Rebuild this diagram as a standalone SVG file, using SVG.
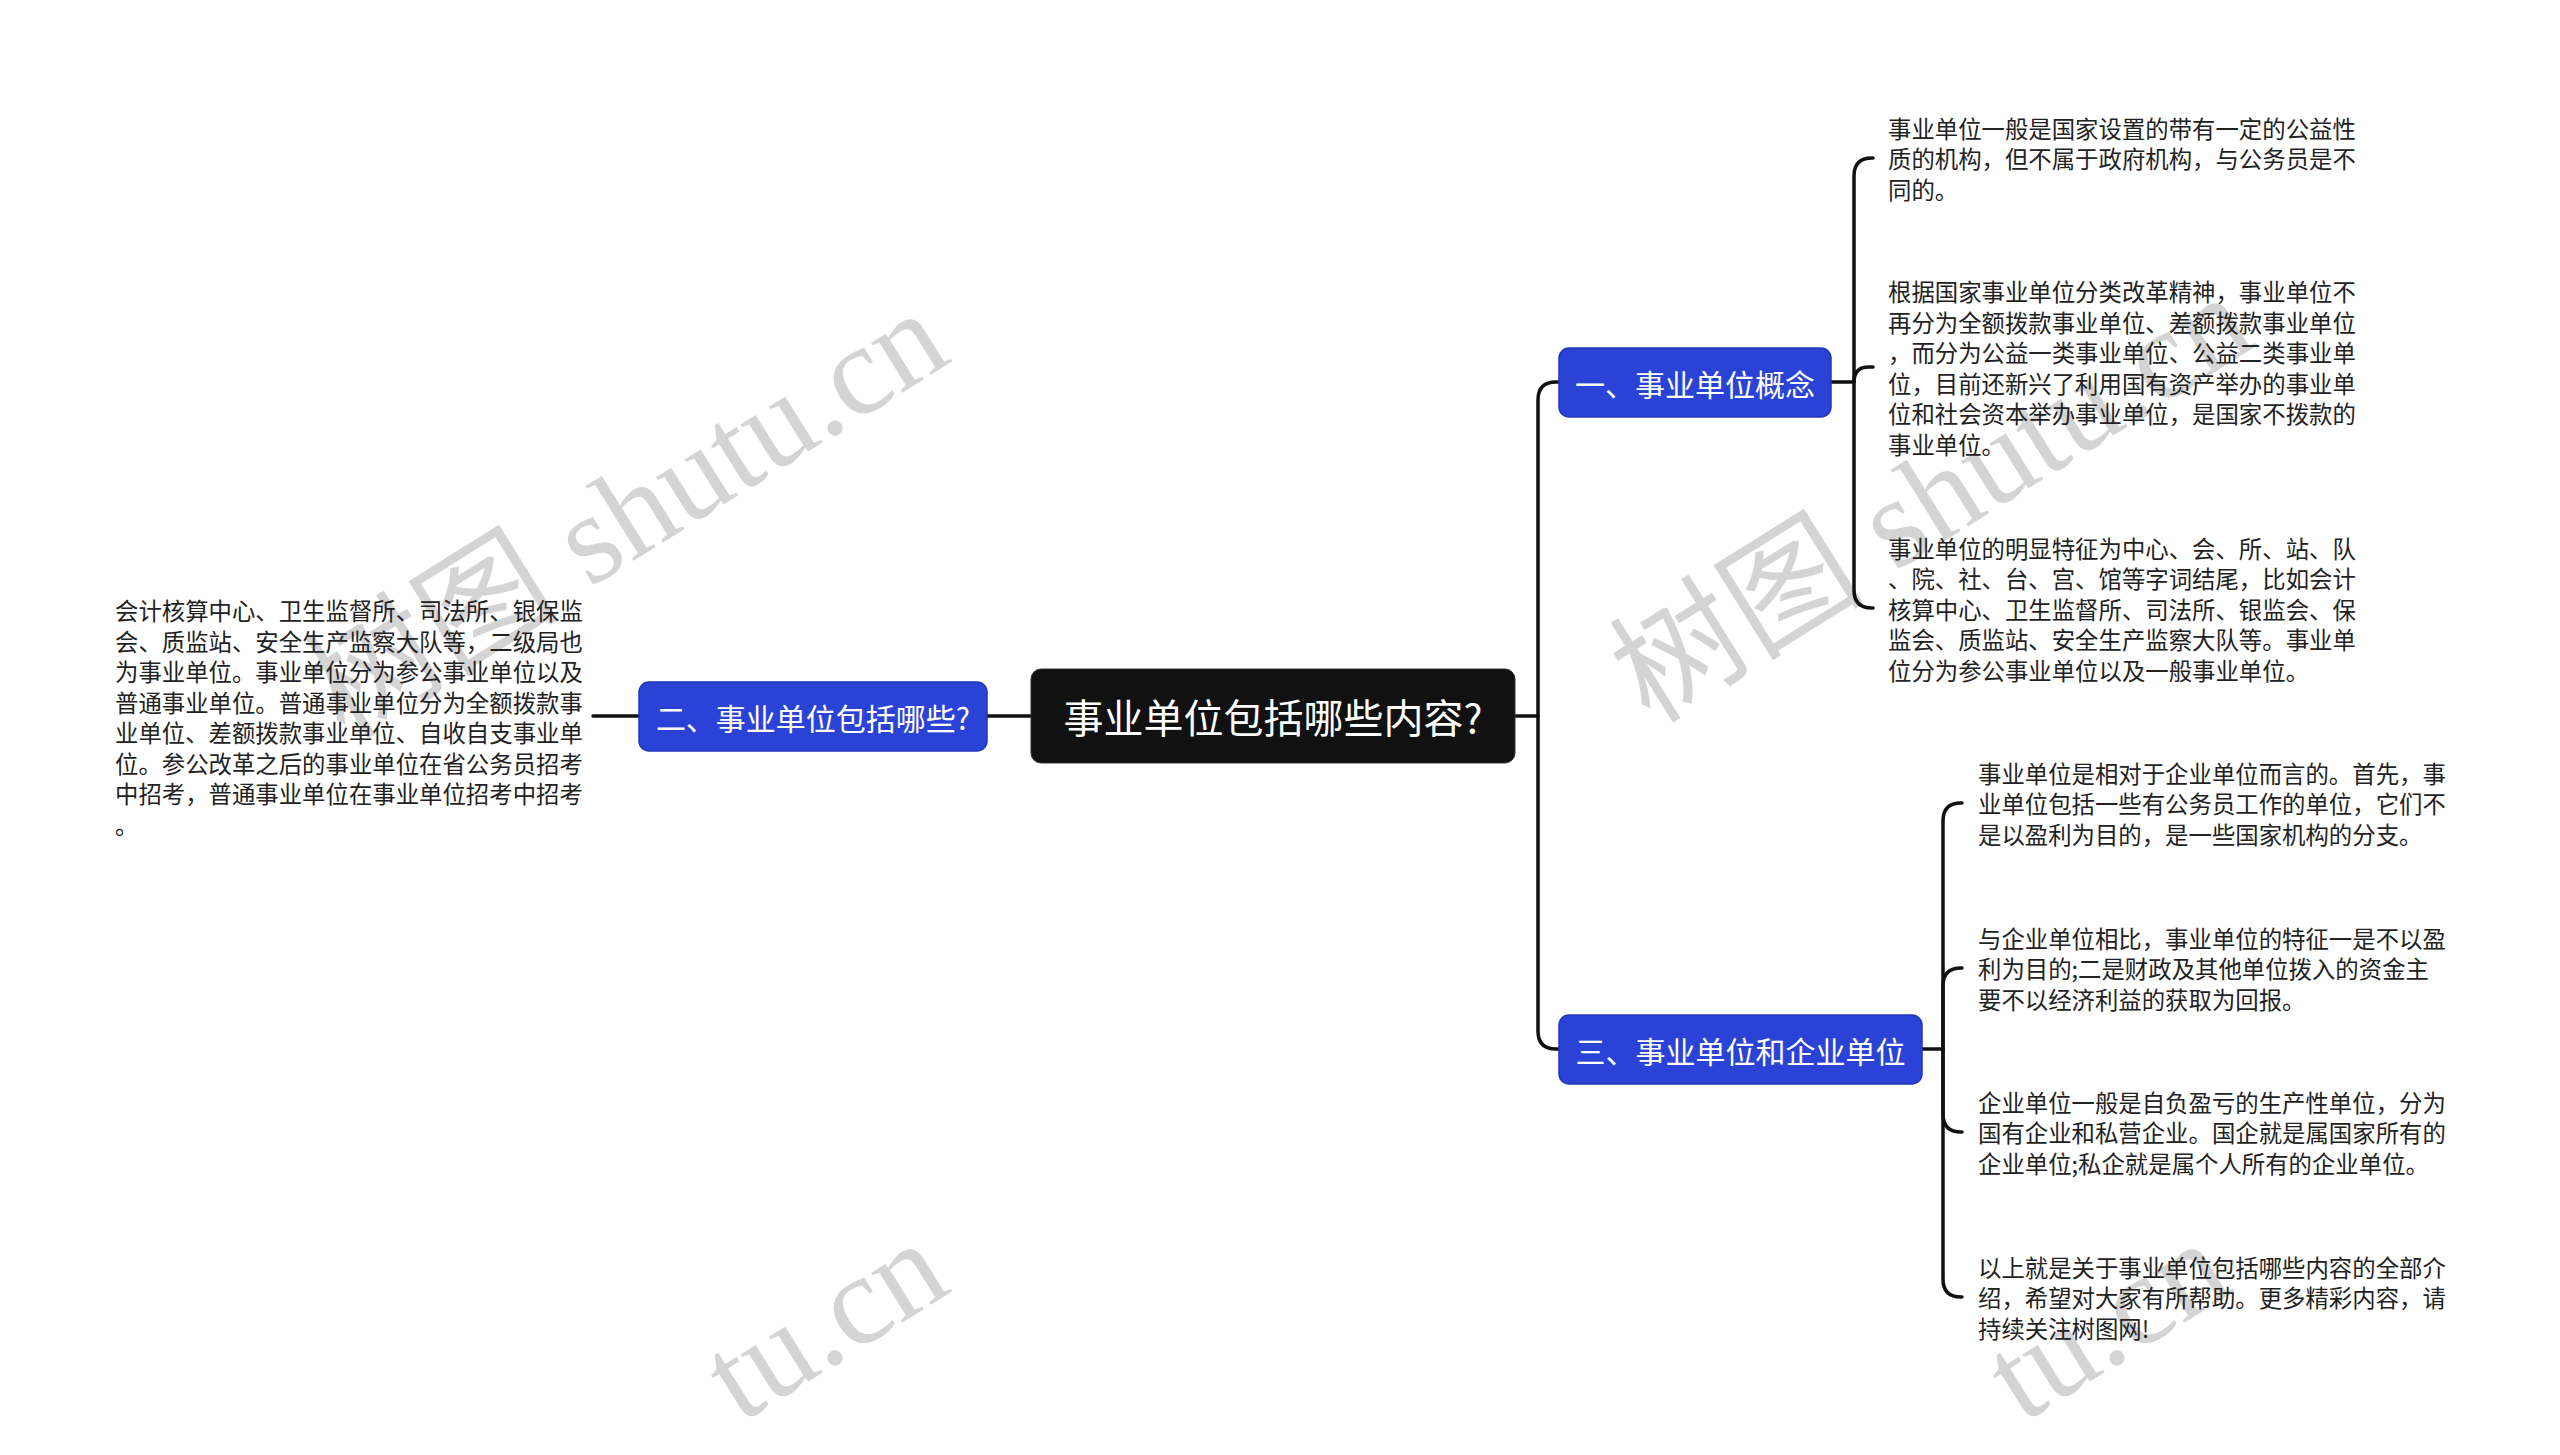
<svg xmlns="http://www.w3.org/2000/svg" width="2560" height="1455" viewBox="0 0 2560 1455">
<style>
.wm{fill:#d4d4d4;font-size:128px;}
.wmc{font-family:"Noto Sans CJK SC",sans-serif;}
.wms{font-family:"Liberation Serif",serif;}
.conn{fill:none;stroke:#111;stroke-width:3.5;stroke-linecap:round;}
.leaf{font-family:"Noto Sans CJK SC","Noto Sans",sans-serif;font-size:23.4px;fill:#222;dominant-baseline:central;}
.ntext{font-family:"Noto Sans CJK SC","Noto Sans",sans-serif;fill:#fff;text-anchor:middle;dominant-baseline:central;}
.blue{fill:#2a43d6;stroke:#2236b8;stroke-width:1.5;}
</style>
<rect width="2560" height="1455" fill="#fff"/>
<g id="watermarks">
<text class="wm" transform="translate(345,741) rotate(-32)"><tspan class="wmc">树图</tspan><tspan class="wms"> shutu.cn</tspan></text>
<text class="wm" transform="translate(1650,725) rotate(-32)"><tspan class="wmc">树图</tspan><tspan class="wms"> shutu.cn</tspan></text>
<text class="wm wms" transform="translate(740,1424) rotate(-32)">tu.cn</text>
<text class="wm wms" transform="translate(2022,1424) rotate(-32)">tu.cn</text>
</g>
<g id="connectors">
<path class="conn" d="M1031 716H987"/>
<path class="conn" d="M639 716H593"/>
<path class="conn" d="M1514 716H1538"/>
<path class="conn" d="M1538 716V400Q1538 382 1556 382H1559"/>
<path class="conn" d="M1538 716V1031Q1538 1049 1556 1049H1559"/>
<path class="conn" d="M1830 382H1854"/>
<path class="conn" d="M1854 382V176Q1854 158 1872 158H1873"/>
<path class="conn" d="M1854 382Q1854 367 1869 367H1873"/>
<path class="conn" d="M1854 382V590Q1854 608 1872 608H1873"/>
<path class="conn" d="M1922 1049H1943"/>
<path class="conn" d="M1943 1049V821Q1943 803 1961 803H1962"/>
<path class="conn" d="M1943 1049V986Q1943 968 1961 968H1962"/>
<path class="conn" d="M1943 1049V1114Q1943 1132 1961 1132H1962"/>
<path class="conn" d="M1943 1049V1279Q1943 1297 1961 1297H1962"/>
</g>
<g id="root">
<rect x="1031" y="669" width="484" height="94" rx="10" fill="#111" stroke="#333" stroke-width="1"/>
<text class="ntext" x="1273" y="716" font-size="40">事业单位包括哪些内容?</text>
</g>
<g id="node1">
<rect class="blue" x="1559" y="348" width="272" height="69" rx="10"/>
<text class="ntext" x="1695" y="382.5" font-size="30">一、事业单位概念</text>
</g>
<g id="node2">
<rect class="blue" x="639" y="682" width="348" height="69" rx="10"/>
<text class="ntext" x="813" y="716.5" font-size="30">二、事业单位包括哪些?</text>
</g>
<g id="node3">
<rect class="blue" x="1559" y="1015" width="363" height="69" rx="10"/>
<text class="ntext" x="1740.5" y="1049.5" font-size="30">三、事业单位和企业单位</text>
</g>
<g id="leaf2-1">
<text class="leaf" x="115"><tspan x="115" y="610">会计核算中心、卫生监督所、司法所、银保监</tspan><tspan x="115" y="640.5">会、质监站、安全生产监察大队等，二级局也</tspan><tspan x="115" y="671">为事业单位。事业单位分为参公事业单位以及</tspan><tspan x="115" y="701.5">普通事业单位。普通事业单位分为全额拨款事</tspan><tspan x="115" y="732">业单位、差额拨款事业单位、自收自支事业单</tspan><tspan x="115" y="762.5">位。参公改革之后的事业单位在省公务员招考</tspan><tspan x="115" y="793">中招考，普通事业单位在事业单位招考中招考</tspan><tspan x="115" y="823.5">。</tspan></text>
</g>
<g id="leaf1-1">
<text class="leaf"><tspan x="1888" y="127.5">事业单位一般是国家设置的带有一定的公益性</tspan><tspan x="1888" y="158">质的机构，但不属于政府机构，与公务员是不</tspan><tspan x="1888" y="188.5">同的。</tspan></text>
</g>
<g id="leaf1-2">
<text class="leaf"><tspan x="1888" y="291">根据国家事业单位分类改革精神，事业单位不</tspan><tspan x="1888" y="321.5">再分为全额拨款事业单位、差额拨款事业单位</tspan><tspan x="1888" y="352">，而分为公益一类事业单位、公益二类事业单</tspan><tspan x="1888" y="382.5">位，目前还新兴了利用国有资产举办的事业单</tspan><tspan x="1888" y="413">位和社会资本举办事业单位，是国家不拨款的</tspan><tspan x="1888" y="443.5">事业单位。</tspan></text>
</g>
<g id="leaf1-3">
<text class="leaf"><tspan x="1888" y="547.5">事业单位的明显特征为中心、会、所、站、队</tspan><tspan x="1888" y="578">、院、社、台、宫、馆等字词结尾，比如会计</tspan><tspan x="1888" y="608.5">核算中心、卫生监督所、司法所、银监会、保</tspan><tspan x="1888" y="639">监会、质监站、安全生产监察大队等。事业单</tspan><tspan x="1888" y="669.5">位分为参公事业单位以及一般事业单位。</tspan></text>
</g>
<g id="leaf3-1">
<text class="leaf"><tspan x="1978" y="772.5">事业单位是相对于企业单位而言的。首先，事</tspan><tspan x="1978" y="803">业单位包括一些有公务员工作的单位，它们不</tspan><tspan x="1978" y="833.5">是以盈利为目的，是一些国家机构的分支。</tspan></text>
</g>
<g id="leaf3-2">
<text class="leaf"><tspan x="1978" y="937.5">与企业单位相比，事业单位的特征一是不以盈</tspan><tspan x="1978" y="968">利为目的;二是财政及其他单位拨入的资金主</tspan><tspan x="1978" y="998.5">要不以经济利益的获取为回报。</tspan></text>
</g>
<g id="leaf3-3">
<text class="leaf"><tspan x="1978" y="1101.5">企业单位一般是自负盈亏的生产性单位，分为</tspan><tspan x="1978" y="1132">国有企业和私营企业。国企就是属国家所有的</tspan><tspan x="1978" y="1162.5">企业单位;私企就是属个人所有的企业单位。</tspan></text>
</g>
<g id="leaf3-4">
<text class="leaf"><tspan x="1978" y="1266.5">以上就是关于事业单位包括哪些内容的全部介</tspan><tspan x="1978" y="1297">绍，希望对大家有所帮助。更多精彩内容，请</tspan><tspan x="1978" y="1327.5">持续关注树图网!</tspan></text>
</g>
</svg>
